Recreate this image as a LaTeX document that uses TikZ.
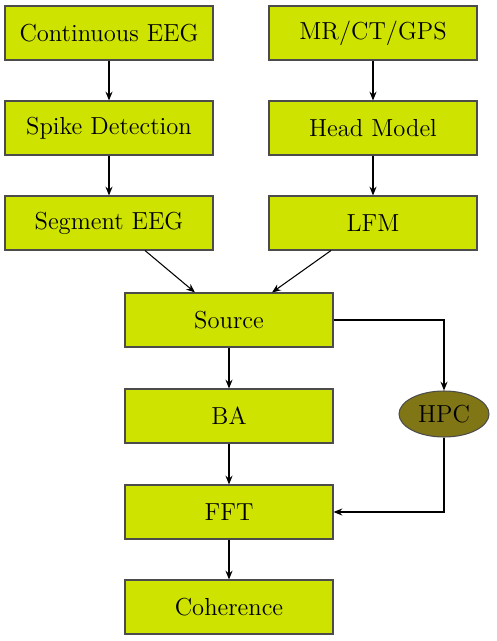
\documentclass[tikz,border=0pt]{standalone}
\usetikzlibrary{shapes.geometric, arrows.meta, calc}
\definecolor{boxlime}{RGB}{206,228,0}
\definecolor{hpcolive}{RGB}{128,118,22}

\begin{document}
\begin{tikzpicture}[semithick, >={Stealth[length=5pt,width=4pt]},
    stage/.style={rectangle, draw=black!70, fill=boxlime, minimum width=4.16cm, minimum height=1.08cm, font=\fontsize{14}{16}\selectfont},
    unit/.style={ellipse, draw=black!70, fill=hpcolive, minimum width=1.8cm, minimum height=0.92cm, inner sep=0pt, font=\fontsize{14}{16}\selectfont}]
        \useasboundingbox (0,0) rectangle (9.92,-12.82);

        % EEG branch (left)
        \node[stage] (cont) at (2.18,-0.66) {Continuous EEG};
        \node[stage] (spike) at (2.18,-2.56) {Spike Detection};
        \node[stage] (seg) at (2.18,-4.46) {Segment EEG};

        % Imaging branch (right)
        \node[stage] (mr) at (7.46,-0.66) {MR/CT/GPS};
        \node[stage] (head) at (7.46,-2.56) {Head Model};
        \node[stage] (lfm) at (7.46,-4.46) {LFM};

        % Main chain
        \node[stage] (src) at (4.58,-6.40) {Source};
        \node[stage] (ba) at (4.58,-8.32) {BA};
        \node[stage] (fft) at (4.58,-10.24) {FFT};
        \node[stage] (coh) at (4.58,-12.14) {Coherence};
        \node[unit] (hpc) at (8.88,-8.28) {HPC};

        \draw[->] (cont) -- (spike);
        \draw[->] (spike) -- (seg);
        \draw[->] (mr) -- (head);
        \draw[->] (head) -- (lfm);
        \draw[->] ($(seg.south)+(0.72,0)$) -- ($(src.north)+(-0.68,0)$);
        \draw[->] ($(lfm.south)+(-0.84,0)$) -- ($(src.north)+(0.86,0)$);
        \draw[->] (src) -- (ba);
        \draw[->] (ba) -- (fft);
        \draw[->] (fft) -- (coh);

        % HPC loop
        \draw[->] (src.east) -| (hpc.north);
        \draw[->] (hpc.south) |- (fft.east);
    \end{tikzpicture}
\end{document}
